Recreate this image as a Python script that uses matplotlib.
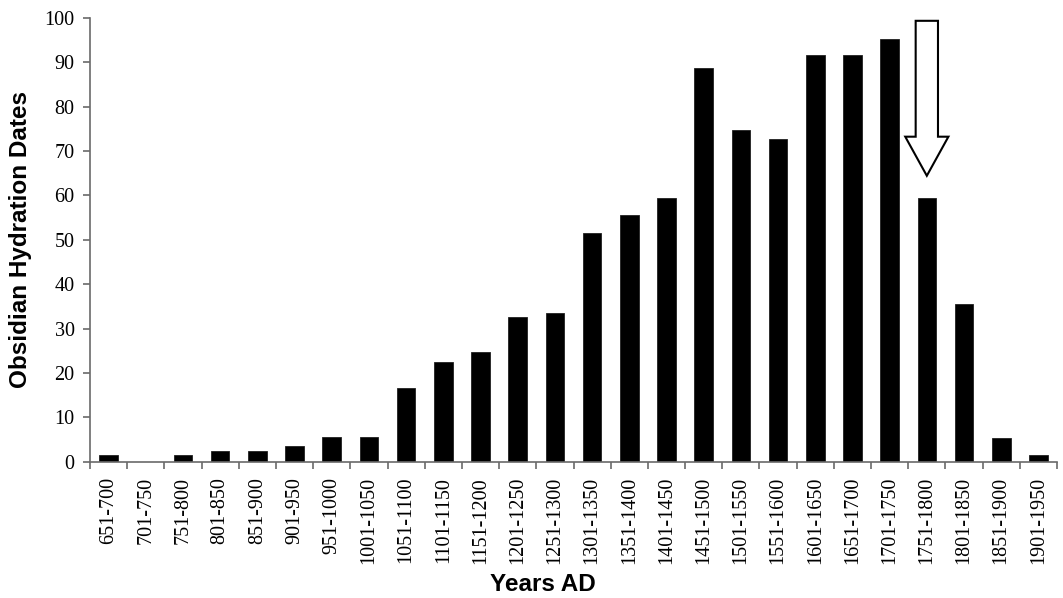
import matplotlib
matplotlib.use("Agg")
import matplotlib.pyplot as plt
import numpy as np

categories = ["651-700", "701-750", "751-800", "801-850", "851-900", "901-950",
              "951-1000", "1001-1050", "1051-1100", "1101-1150", "1151-1200",
              "1201-1250", "1251-1300", "1301-1350", "1351-1400", "1401-1450",
              "1451-1500", "1501-1550", "1551-1600", "1601-1650", "1651-1700",
              "1701-1750", "1751-1800", "1801-1850", "1851-1900", "1901-1950"]
values = [1.4, 0, 1.4, 2.5, 2.5, 3.5, 5.5, 5.5, 16.5, 22.5, 24.6, 32.5, 33.4,
          51.6, 55.6, 59.4, 88.6, 74.8, 72.6, 91.6, 91.6, 95.3, 59.3, 35.5, 5.4, 1.4]
y_ticks = list(range(0, 101, 10))
arrow_category = "1751-1800"

fig = plt.figure(figsize=(10.63, 5.98), dpi=100)
ax = fig.add_axes([90/1063, (598-461.7)/598, (1059-92)/1063, (461.7-17.7)/598])

x = np.arange(len(categories))
ax.bar(x, values, width=0.5, color="black", edgecolor="#202020", linewidth=0.6, zorder=2)

ax.set_xlim(-0.5, len(categories) - 0.5)
ax.set_ylim(0, 100)

for s in ["top", "right"]:
    ax.spines[s].set_visible(False)
for s in ["left", "bottom"]:
    ax.spines[s].set_color("#6a6a6a")
    ax.spines[s].set_linewidth(1.2)

ax.set_yticks(y_ticks)
ax.set_yticklabels([str(t) for t in y_ticks], fontfamily="Liberation Serif", fontsize=14.5)
ax.tick_params(axis="y", direction="out", length=5, width=1.2, color="#6a6a6a", pad=6)

# major ticks at category boundaries, labels at centers (minor)
ax.set_xticks(np.arange(len(categories) + 1) - 0.5)
ax.set_xticklabels([])
ax.tick_params(axis="x", which="major", direction="out", length=5, width=1.2, color="#6a6a6a")
ax.set_xticks(x, minor=True)
ax.set_xticklabels(categories, minor=True, rotation=90, fontfamily="Liberation Serif", fontsize=14.5)
ax.tick_params(axis="x", which="minor", length=0, pad=11)

ax.set_ylabel("Obsidian Hydration Dates", fontfamily="Liberation Sans", fontweight="bold",
              fontsize=17.5)
ax.set_xlabel("Years AD", fontfamily="Liberation Sans", fontweight="bold", fontsize=17.5)
ax.yaxis.set_label_coords(-0.06, 0.5)
ax.xaxis.set_label_coords(0.468, -0.25)

# arrow annotation above the 1751-1800 bar
ai = categories.index(arrow_category)
tip = values[ai] + 5.1
top = 99.3
ax.arrow(ai, top, 0, tip - top, width=0.6, head_width=1.16, head_length=8.8,
         length_includes_head=True, facecolor="white", edgecolor="black", linewidth=1.5,
         zorder=3, clip_on=False)

fig.savefig("out.png", dpi=100)
